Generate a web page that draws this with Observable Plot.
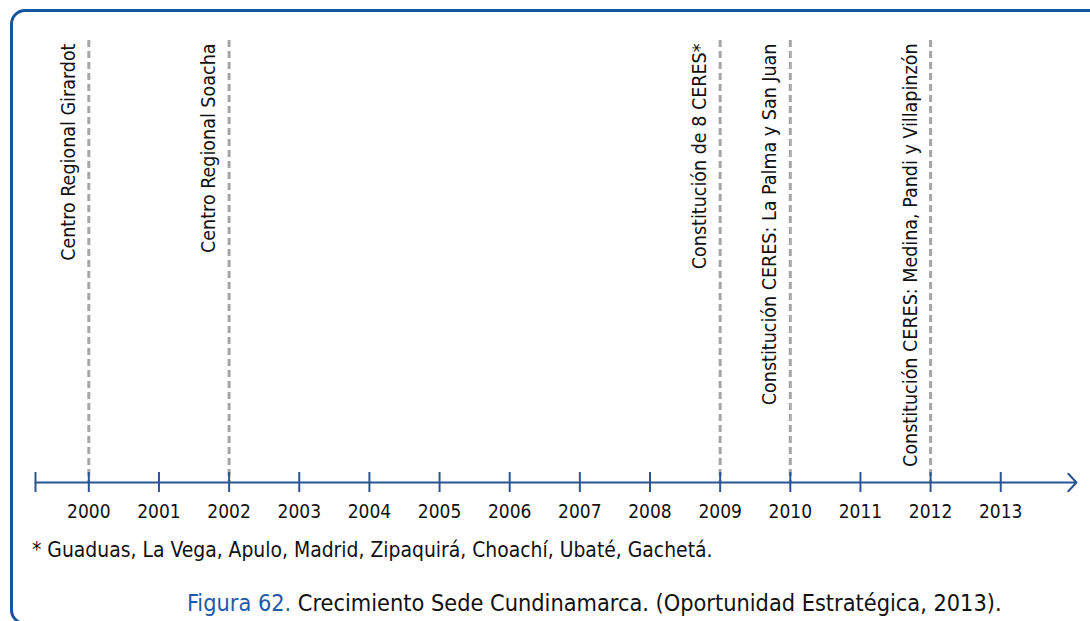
<!DOCTYPE html>
<html>
<head>
<meta charset="utf-8">
<script src="https://cdn.jsdelivr.net/npm/d3@7"></script>
<script src="https://cdn.jsdelivr.net/npm/@observablehq/plot@0.6"></script>
<style>
  html, body { margin: 0; padding: 0; background: #fff; overflow: hidden; }
  body { width: 1090px; height: 621px; position: relative;
         font-family: "DejaVu Sans Condensed", "DejaVu Sans", sans-serif; font-stretch: condensed; }
  #frame { position: absolute; left: 10px; top: 9px; width: 1200px; height: 616px;
           border: 3px solid #1656a0; border-radius: 15px; box-sizing: border-box; }
  #chart { position: absolute; left: 0; top: 0; }
  #foot { position: absolute; left: 32px; top: 540px; font-size: 20.9px; line-height: 20.9px; color: #111; white-space: nowrap; }
  #cap { position: absolute; left: 187px; top: 591px; font-size: 23.3px; line-height: 23.3px; color: #111; white-space: nowrap; }
  #cap .fig { color: #1e5aa8; }
</style>
</head>
<body>
<div id="frame"></div>
<div id="chart"></div>
<div id="foot"></div>
<div id="cap"></div>
<script>
// ---- data ----
const years = [2000, 2001, 2002, 2003, 2004, 2005, 2006, 2007, 2008, 2009, 2010, 2011, 2012, 2013];
const eventYears = [2000, 2002, 2009, 2010, 2012];
const eventLabels = [
  "Centro Regional Girardot",
  "Centro Regional Soacha",
  "Constitución de 8 CERES*",
  "Constitución CERES: La Palma y San Juan",
  "Constitución CERES: Medina, Pandi y Villapinzón"
];
const axisStart = 1999.24;
const axisEnd = 2014.08;
const footnoteText = "* Guaduas, La Vega, Apulo, Madrid, Zipaquirá, Choachí, Ubaté, Gachetá.";
const captionLabel = "Figura 62.";
const captionText = " Crecimiento Sede Cundinamarca. (Oportunidad Estratégica, 2013).";

// ---- chart ----
const events = eventYears.map((year, i) => ({year, label: eventLabels[i]}));
const axisColor = "#2b5592";
const font = '"DejaVu Sans Condensed", "DejaVu Sans", sans-serif';

const chart = Plot.plot({
  width: 1090,
  height: 530,
  marginLeft: 35,
  marginRight: 14,
  marginTop: 40,
  marginBottom: 48,
  x: {domain: [axisStart, axisEnd], axis: null},
  y: {domain: [0, 442], axis: null},
  style: {fontFamily: font, background: "transparent", overflow: "visible", color: "#111"},
  marks: [
    Plot.ruleX(events, {x: "year", stroke: "#a6a6a6", strokeWidth: 3, strokeDasharray: "7,4"}),
    Plot.arrow([{x1: axisStart, x2: axisEnd}], {x1: "x1", x2: "x2", y1: 0, y2: 0,
      stroke: axisColor, strokeWidth: 2, headLength: 9, headAngle: 94}),
    Plot.ruleX([axisStart, ...years], {x: d => d, y1: -10, y2: 10, stroke: axisColor, strokeWidth: 2}),
    Plot.text(years, {x: d => d, y: 0, dy: 29, text: d => String(d), fontSize: 19,
      fontFamily: font, fill: "#111"}),
    Plot.text(events, {x: "year", y: 439, text: "label", rotate: -90, textAnchor: "end",
      lineAnchor: "bottom", dx: -14, fontSize: 19.5, fontFamily: font, fill: "#111"})
  ]
});
document.getElementById("chart").appendChild(chart);
document.getElementById("foot").textContent = footnoteText;
const cap = document.getElementById("cap");
const fig = document.createElement("span");
fig.className = "fig";
fig.textContent = captionLabel;
cap.appendChild(fig);
cap.appendChild(document.createTextNode(captionText));
</script>
</body>
</html>
